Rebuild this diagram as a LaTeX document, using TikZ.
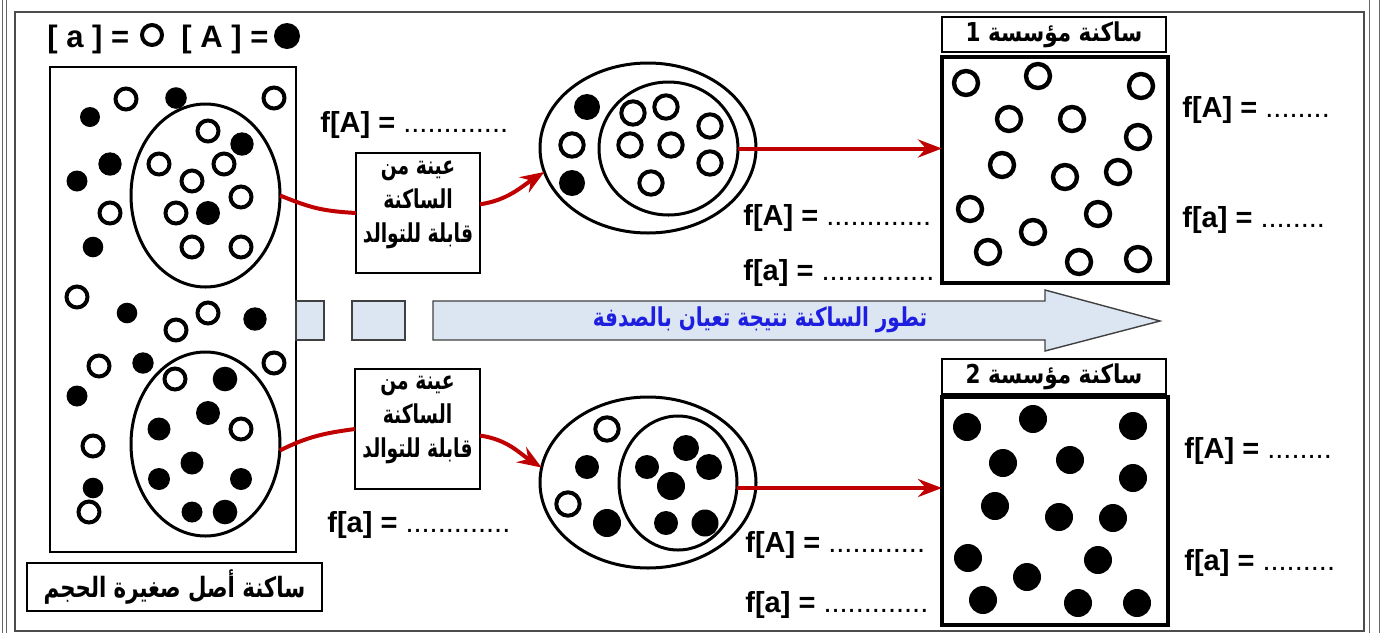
\documentclass[tikz,border=0pt]{standalone}
\usepackage{fontspec}
\setmainfont{Liberation Sans}
\newfontfamily\arabicfont[Script=Arabic]{DejaVu Sans}
\TeXXeTstate=1
\usetikzlibrary{shapes.geometric,arrows.meta,calc}
\definecolor{redline}{RGB}{192,0,0}
\definecolor{arrowfill}{RGB}{220,230,242}
\definecolor{arrowtext}{RGB}{30,30,225}
\begin{document}
\begin{tikzpicture}[x=0.5pt,y=-0.5pt,
  box/.style={draw, line width=1pt, rectangle, inner sep=0pt, outer sep=0pt},
  ell/.style={draw, ellipse, line width=1.5pt, inner sep=0pt, outer sep=0pt},
  odot/.style={draw, line width=2pt},
  bigodot/.style={draw, line width=2.2pt},
  flab/.style={anchor=base west, inner sep=0pt, font=\bfseries\fontsize{14.5}{17}\selectfont},
  ar/.style={font=\arabicfont\bfseries\fontsize{13}{17}\selectfont},
  redc/.style={draw=redline, line width=2pt},
  redarr/.style={redc, -{Stealth[length=12pt,width=9pt,inset=4pt]}},
  evobox/.style={fill=arrowfill, draw=black!75, line width=0.7pt},
]
\useasboundingbox (0,0) rectangle (1382,633);
% frame
\draw[line width=0.6pt, black!70] (15,12) rectangle (1364,631);
\draw[line width=0.5pt, black!60] (2,0) -- (2,633) (6.5,0) -- (6.5,633) (1369,0) -- (1369,633) (1379,0) -- (1379,633);

% legend
\node[flab, font=\bfseries\fontsize{15.5}{18}\selectfont] (lega) at (47,47) {[ a ] =};
\draw[odot] (152,35) circle[radius=10];
\node[flab, font=\bfseries\fontsize{15.5}{18}\selectfont] (legA) at (181,47) {[ A ] =};
\fill (287,36) circle[radius=13];

% original population
\node[box, minimum width=123pt, minimum height=242.5pt] (pop) at (173,309.5) {};
\node[ell, minimum width=74.5pt, minimum height=91.5pt] (e1) at (205.5,195.5) {};
\node[ell, minimum width=74.5pt, minimum height=92pt] (e2) at (205.5,444) {};
\node[box, minimum width=147.5pt, minimum height=24pt, font=\arabicfont\bfseries\fontsize{14}{16}\selectfont] (lab) at (174.5,587) {\scalebox{0.76}[1]{\beginR ساكنة أصل صغيرة الحجم\endR}};

\foreach \x/\y in {126/99,274/98,208/131,159/164,224/164,192/181,241/197,110/213,176/213,192/247,241/247,77/297,208/313,176/330,99/366,274/363,175/379,241/429,93/446,89/512}
  \draw[odot] (\x,\y) circle[radius=10.5];
\foreach \x/\y/\r in {90/117/10,176/98/10.8,242/144/11.7,110/164/11.7,77/181/10.5,208/213/12,93/247/10.3,127/313/10.3,255/319/11.7,143/363/10.7,225/379/12.3,77/396/10.5,208/413/12,159/429/11.5,192/463/11.5,159/479/11,241/479/11,93/488/10.3,192/512/10.5,225/512/12.3}
  \fill (\x,\y) circle[radius=\r];

% sample boxes
\node[box, minimum width=62pt, minimum height=60pt] (s1) at (418,213) {};
\node[ar, align=center] (s1t) at (418,205) {\scalebox{0.72}[1]{\beginR عينة من\endR}\\\scalebox{0.72}[1]{\beginR الساكنة\endR}\\\scalebox{0.72}[1]{\beginR قابلة للتوالد\endR}};
\node[box, minimum width=62.5pt, minimum height=60pt] (s2) at (417.5,429) {};
\node[ar, align=center] (s2t) at (417.5,420) {\scalebox{0.72}[1]{\beginR عينة من\endR}\\\scalebox{0.72}[1]{\beginR الساكنة\endR}\\\scalebox{0.72}[1]{\beginR قابلة للتوالد\endR}};

% middle ellipses
\node[ell, minimum width=108pt, minimum height=85pt] (m1) at (648,148) {};
\node[ell, minimum width=69.5pt, minimum height=66.5pt] (i1) at (668.5,148.5) {};
\node[ell, minimum width=108pt, minimum height=85.5pt] (m2) at (648,482.5) {};
\node[ell, minimum width=59pt, minimum height=67pt] (i2) at (678,483) {};

\foreach \x/\y in {572/145,633/113,666/107,710/126,630/145,671/145,710/163,651/183,607/429,568/504}
  \draw[odot] (\x,\y) circle[radius=11.7];
\foreach \x/\y/\r in {587/107/13,572/183/13,587/467/12,607/523/14,686/448/13,647/467/12,709/467/13,671/486/14,666/523/12,705/523/13.5}
  \fill (\x,\y) circle[radius=\r];

% founder populations
\node[box, line width=1.75pt, minimum width=113pt, minimum height=113pt] (F1) at (1055,170) {};
\node[box, minimum width=112pt, minimum height=17.5pt, font=\arabicfont\bfseries\fontsize{13}{15}\selectfont] (T1) at (1054,34.5) {\scalebox{0.83}[1]{\beginR ساكنة مؤسسة 1\endR}};
\node[box, line width=1.75pt, minimum width=113pt, minimum height=114pt] (F2) at (1055,511) {};
\node[box, minimum width=112pt, minimum height=17.5pt, font=\arabicfont\bfseries\fontsize{13}{15}\selectfont] (T2) at (1054,376.5) {\scalebox{0.83}[1]{\beginR ساكنة مؤسسة 2\endR}};

\foreach \x/\y in {966/83,1038/76,1141/86,1009/119,1072/119,1138/137,1002/165,1065/177,1118/172,970/209,1098/214,1033/232,988/252,1079/262,1138/259}
  \draw[bigodot] (\x,\y) circle[radius=12];
\foreach \x/\y in {967/427,1033/419,1133/426,1003/463,1070/460,1133/478,995/506,1059/517,1113/518,968/558,1098/560,1027/577,983/600,1078/603,1137/603}
  \fill (\x,\y) circle[radius=14];

% evolution arrow
\filldraw[evobox] (296,301) rectangle (324,340);
\filldraw[evobox] (352,301) rectangle (405,340);
\filldraw[evobox] (433,301) -- (1045,301) -- (1045,290) -- (1160,321) -- (1045,351) -- (1045,340) -- (433,340) -- cycle;
\node[font=\arabicfont\bfseries\fontsize{13}{15}\selectfont, text=arrowtext] (evo) at (760,320) {\scalebox{0.77}[1]{\beginR تطور الساكنة نتيجة تعيان بالصدفة\endR}};

% red connectors
\draw[redc] (e1.east) .. controls +(30,12) and +(-35,-2) .. (s1.west);
\draw[redarr] (s1.8) .. controls +(28,-4) and +(-22,14) .. (m1.193);
\draw[redc] (e2.355) .. controls +(28,-14) and +(-30,4) .. (s2.west);
\draw[redarr] (s2.354) .. controls +(28,4) and +(-22,-14) .. (m2.172);
\draw[redarr] (i1.east) -- (i1.east -| F1.west);
\draw[redarr] ([yshift=-2.5pt]i2.east) -- ([yshift=-2.5pt]i2.east -| F2.west);

% frequency labels
\node[flab] (fA0) at (320,132) {f[A] = {\mdseries .............}};
\node[flab] (fa0) at (327,532) {f[a] = {\mdseries .............}};
\node[flab] (fA1) at (743,225) {f[A] = {\mdseries .............}};
\node[flab] (fa1) at (743,280) {f[a] = {\mdseries ..............}};
\node[flab] (fA2) at (745,552) {f[A] = {\mdseries ............}};
\node[flab] (fa2) at (745,612) {f[a] = {\mdseries .............}};
\node[flab] (fA3) at (1182,117) {f[A] = {\mdseries ........}};
\node[flab] (fa3) at (1182,227) {f[a] = {\mdseries ........}};
\node[flab] (fA4) at (1184,458) {f[A] = {\mdseries ........}};
\node[flab] (fa4) at (1184,570) {f[a] = {\mdseries .........}};
\end{tikzpicture}
\end{document}
